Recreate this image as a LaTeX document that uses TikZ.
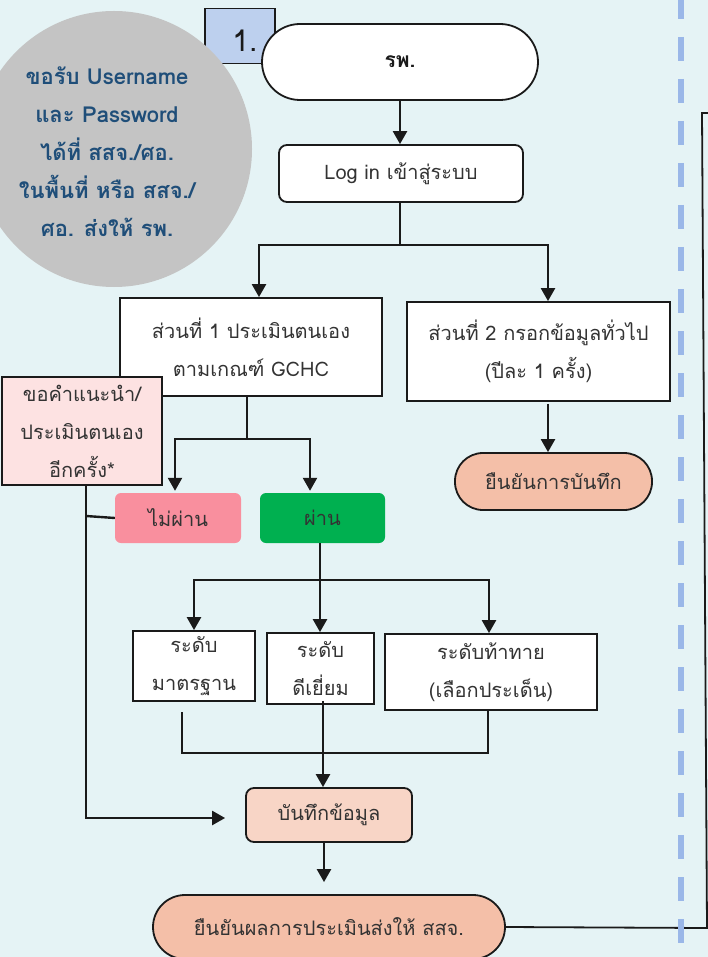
\documentclass[tikz,border=0pt]{standalone}
\usepackage{fontspec}
\setmainfont[Script=Thai]{Loma}
\usetikzlibrary{arrows.meta}

\definecolor{bgcol}{HTML}{E5F3F5}
\definecolor{disc}{HTML}{C4C4C4}
\definecolor{numfill}{HTML}{BDD0EE}
\definecolor{salmon}{HTML}{F4BFA8}
\definecolor{peach}{HTML}{F8D5C6}
\definecolor{rosefill}{HTML}{FDE2E2}
\definecolor{failfill}{HTML}{F98F9E}
\definecolor{passfill}{HTML}{00B050}
\definecolor{lanecol}{HTML}{9AB7E8}
\definecolor{navy}{HTML}{1F4E79}
\definecolor{ink}{HTML}{333333}
\definecolor{edge}{HTML}{1A1A1A}

\tikzset{
  txt/.style={font=\fontsize{20}{38}\selectfont, text=ink, align=center, inner sep=0pt},
  boxshape/.style={txt, draw=edge, line width=1.8pt, fill=white},
  roundbox/.style={boxshape, rounded corners=8pt},
  terminal/.style={boxshape, rounded corners=#1},
  flag/.style={txt, rounded corners=6pt},
  link/.style={draw=edge, line width=2.4pt},
  arr/.style={link, -{Triangle[width=14pt,length=13pt]}},
  lane/.style={draw=lanecol, line width=6pt, dash pattern=on 24pt off 18pt},
}

\begin{document}
\begin{tikzpicture}[x=1pt,y=-1pt]
  % canvas
  \fill[bgcol] (0,0) rectangle (708,957);
  \useasboundingbox (0,0) rectangle (708,957);

  % step number tab, partly hidden by the disc and the start terminal
  \node[boxshape, fill=numfill, minimum width=70pt, minimum height=55pt] (num) at (240,36) {};
  \node[font=\fontsize{30}{30}\selectfont, text=edge, inner sep=0pt] (numtxt) at (245,41) {1.};

  % note disc
  \fill[disc] (114,149) circle (138);
  \node[font=\bfseries\fontsize{22}{38}\selectfont, text=navy, align=center, inner sep=0pt] (note) at (107,152)
    {ขอรับ Username\\และ Password\\ได้ที่ สสจ./ศอ.\\ในพื้นที่ หรือ สสจ./\\ศอ. ส่งให้ รพ.};

  % main flow
  \node[terminal=38pt, minimum width=276pt, minimum height=76pt, font=\bfseries\fontsize{21}{38}\selectfont, text=edge] (start) at (400,62) {รพ.};
  \node[roundbox, minimum width=244pt, minimum height=57pt] (login) at (401,173.5) {Log in เข้าสู่ระบบ};

  \node[boxshape, minimum width=262pt, minimum height=98pt] (p1) at (251,347) {ส่วนที่ 1 ประเมินตนเอง\\ตามเกณฑ์ GCHC};
  \node[boxshape, minimum width=263pt, minimum height=99pt] (p2) at (538.5,351.5) {ส่วนที่ 2 กรอกข้อมูลทั่วไป\\(ปีละ 1 ครั้ง)};
  \node[terminal=28pt, fill=salmon, minimum width=197pt, minimum height=57pt] (conf1) at (553.5,481.5) {ยืนยันการบันทึก};

  \node[boxshape, fill=rosefill, minimum width=160pt, minimum height=108pt] (advice) at (82,431) {ขอคำแนะนำ/\\ประเมินตนเอง\\อีกครั้ง*};
  \node[flag, fill=failfill, minimum width=126pt, minimum height=50pt] (fail) at (178,518) {ไม่ผ่าน};
  \node[flag, fill=passfill, minimum width=125pt, minimum height=50pt] (pass) at (322.5,518) {ผ่าน};

  \node[boxshape, minimum width=122pt, minimum height=70pt] (std) at (194,666) {ระดับ\\มาตรฐาน};
  \node[boxshape, minimum width=107pt, minimum height=71pt] (exc) at (320.5,668.5) {ระดับ\\ดีเยี่ยม};
  \node[boxshape, minimum width=212pt, minimum height=76pt] (chal) at (491,672) {ระดับท้าทาย\\(เลือกประเด็น)};

  \node[roundbox, fill=peach, minimum width=166pt, minimum height=54pt] (rec) at (329,815) {บันทึกข้อมูล};
  \node[terminal=32pt, fill=salmon, minimum width=352pt, minimum height=64pt] (conf2) at (329,927) {ยืนยันผลการประเมินส่งให้ สสจ.};

  % junction points
  \coordinate (j1) at (400,245);
  \coordinate (j2) at (247,439);
  \coordinate (j3) at (320,580);
  \coordinate (vl) at (86,516);
  \coordinate (m1) at (182,712);
  \coordinate (m2) at (182,753);
  \coordinate (m3) at (488,753);
  \coordinate (r1) at (707,928);
  \coordinate (r2) at (702,113);
  \coordinate (r3) at (712,113);

  % connectors
  \draw[arr] (start.south) -- (start.south |- login.north);
  \draw[link] (login.south -| j1) -- (j1);
  \draw[arr] (j1) -| ([xshift=8pt]p1.north);
  \draw[arr] (j1) -| ([xshift=9.5pt]p2.north);
  \draw[arr] ([xshift=9.5pt,yshift=-2pt]p2.south) -- ([xshift=-5.5pt]conf1.north);

  \draw[link] (p1.south -| j2) -- (j2);
  \draw[arr] (j2) -| ([xshift=-3pt,yshift=2pt]fail.north);
  \draw[arr] (j2) -| ([xshift=-12.5pt,yshift=2pt]pass.north);

  \draw[arr] ([xshift=4pt]advice.south) |- ([xshift=-20pt,yshift=-3pt]rec.west);
  \draw[link] (fail.west) -- (vl);

  \draw[link] ([xshift=-2.5pt]pass.south) -- (j3);
  \draw[arr] (j3) -| (std.north);
  \draw[arr] (j3) -- (exc.north -| j3);
  \draw[arr] (j3) -| ([xshift=-2pt]chal.north);

  \draw[link] (m1) -- (m2) -- (m3) -- (chal.south -| m3);
  \draw[arr] ([xshift=2.5pt,yshift=4pt]exc.south) -- ([xshift=-6pt]rec.north);
  \draw[arr] ([xshift=-5pt]rec.south) -- ([xshift=-5pt,yshift=12pt]conf2.north);

  \draw[draw=edge, line width=1.8pt] (conf2.east) -- (r1) -- (r2) -- (r3);

  % lane divider
  \draw[lane] (681,-5) -- (681,943);
\end{tikzpicture}
\end{document}
